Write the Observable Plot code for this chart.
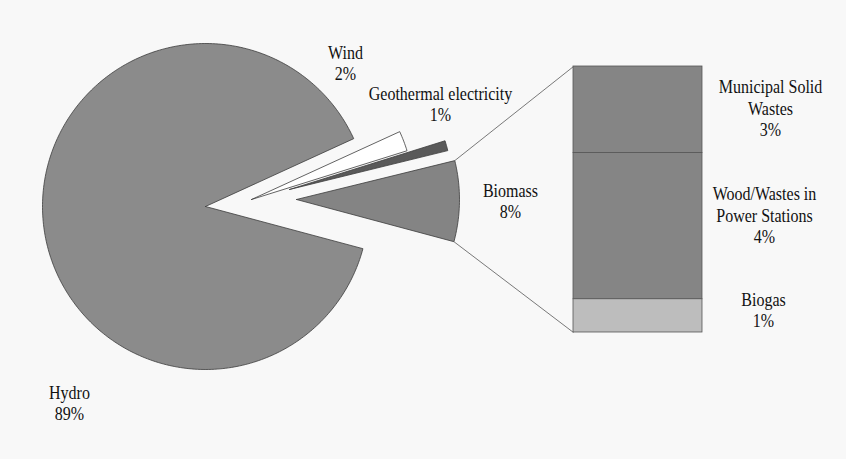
<!DOCTYPE html>
<html>
<head>
<meta charset="utf-8">
<script src="https://cdn.jsdelivr.net/npm/d3@7"></script>
<script src="https://cdn.jsdelivr.net/npm/@observablehq/plot@0.6"></script>
<style>
  html, body { margin: 0; padding: 0; background: #f8f8f8; }
  #chart svg { display: block; }
  #chart svg text { font-family: "Liberation Serif", "Times New Roman", serif; }
</style>
</head>
<body>
<div id="chart"></div>
<script>
// Electricity from renewable sources, share of total (%)
const sources = ["Hydro", "Wind", "Geothermal electricity", "Biomass"];
const shares = [89, 2, 1, 8];

// Breakdown of the biomass share (%)
const biomassParts = ["Municipal Solid Wastes", "Wood/Wastes in Power Stations", "Biogas"];
const biomassShares = [2.6, 4.4, 1.0];

// How each label is broken over lines
const sourceLines = [["Hydro"], ["Wind"], ["Geothermal electricity"], ["Biomass"]];
const partLines = [["Municipal Solid", "Wastes"], ["Wood/Wastes in", "Power Stations"], ["Biogas"]];

// ---- layout and styling ----
const W = 846, H = 459;
const cx = 205, cy = 206, R = 163;
const startDeg = 105;                       // first slice starts here, clockwise from 12 o'clock
const explode = [[0, 0], [46, -7], [84, -17], [91, -7]];
const sliceFill = ["#8b8b8b", "#ffffff", "#5a5a5a", "#848484"];
const sliceLabelAt = [[69, 402], [345, 62], [440, 103], [510, 200]];
const bar = {x0: 573, x1: 702, top: 66, bottom: 332};
const partFill = ["#858585", "#858585", "#bdbdbd"];
const partLabelAt = [[770, 107], [764, 214], [763, 309]];
const serif = "'Liberation Serif', 'Times New Roman', serif";

const rad = Math.PI / 180;
const pie = d3.pie().sort(null).startAngle(startDeg * rad).endAngle((startDeg + 360) * rad);
const arcs = pie(shares);

// point on a slice's rim (d3 angle: clockwise from top)
const rim = (i, a, r = R) => [cx + explode[i][0] + r * Math.sin(a), cy + explode[i][1] - r * Math.cos(a)];

// closed outline of each slice: centre, arc, back to centre
const slicePolys = arcs.map((a, i) => {
  const pts = [{x: cx + explode[i][0], y: cy + explode[i][1]}];
  const n = Math.max(4, Math.ceil((a.endAngle - a.startAngle) / rad));
  for (let k = 0; k <= n; k++) {
    const t = a.startAngle + (a.endAngle - a.startAngle) * k / n;
    const [x, y] = rim(i, t);
    pts.push({x, y});
  }
  pts.push({x: cx + explode[i][0], y: cy + explode[i][1]});
  return pts;
});

// stacked bar for the biomass breakdown, top to bottom
const biomassTotal = d3.sum(biomassShares);
const yAt = v => bar.top + (v / biomassTotal) * (bar.bottom - bar.top);
let acc = 0;
const barRows = biomassShares.map((v, i) => {
  const row = {part: biomassParts[i], y1: yAt(acc), y2: yAt(acc + v), fill: partFill[i]};
  acc += v;
  return row;
});

// connector lines from the biomass slice's outer corners to the bar
const bi = sources.indexOf("Biomass");
const [ux, uy] = rim(bi, arcs[bi].startAngle);
const [lx, ly] = rim(bi, arcs[bi].endAngle);
const connectors = [
  {x1: ux, y1: uy, x2: bar.x0, y2: bar.top},
  {x1: lx, y1: ly, x2: bar.x0, y2: bar.bottom}
];

const sliceLabels = sources.map((s, i) => ({
  x: sliceLabelAt[i][0], y: sliceLabelAt[i][1],
  text: [...sourceLines[i], `${shares[i]}%`].join("\n")
}));
const partLabels = biomassParts.map((s, i) => ({
  x: partLabelAt[i][0], y: partLabelAt[i][1],
  text: [...partLines[i], `${Math.round(biomassShares[i])}%`].join("\n")
}));

const textOpts = {
  x: "x", y: "y", text: "text",
  fontFamily: serif,
  fontSize: 18, lineHeight: 1.22, textAnchor: "middle", lineAnchor: "middle",
  fill: "#111111"
};

const chart = Plot.plot({
  width: W, height: H,
  margin: 0,
  x: {domain: [0, W], range: [0, W], axis: null},
  y: {domain: [0, H], range: [0, H], axis: null},
  style: {background: "transparent", fontFamily: serif},
  marks: [
    ...slicePolys.map((pts, i) =>
      Plot.line(pts, {x: "x", y: "y", fill: sliceFill[i], stroke: "#3c3c3c", strokeWidth: 0.8, curve: "linear"})
    ),
    Plot.link(connectors, {x1: "x1", y1: "y1", x2: "x2", y2: "y2", stroke: "#6a6a6a", strokeWidth: 0.9}),
    Plot.rect(barRows, {x1: () => bar.x0, x2: () => bar.x1, y1: "y1", y2: "y2", fill: "fill", stroke: "#555555", strokeWidth: 0.8}),
    Plot.text(sliceLabels, textOpts),
    Plot.text(partLabels, textOpts)
  ]
});

// the serif face here is narrower than the default Times metrics
d3.select(chart).selectAll("text").each(function () {
  const t = this.getAttribute("transform") || "";
  this.setAttribute("transform", t + " scale(0.89,1)");
});

document.getElementById("chart").appendChild(chart);
</script>
</body>
</html>
